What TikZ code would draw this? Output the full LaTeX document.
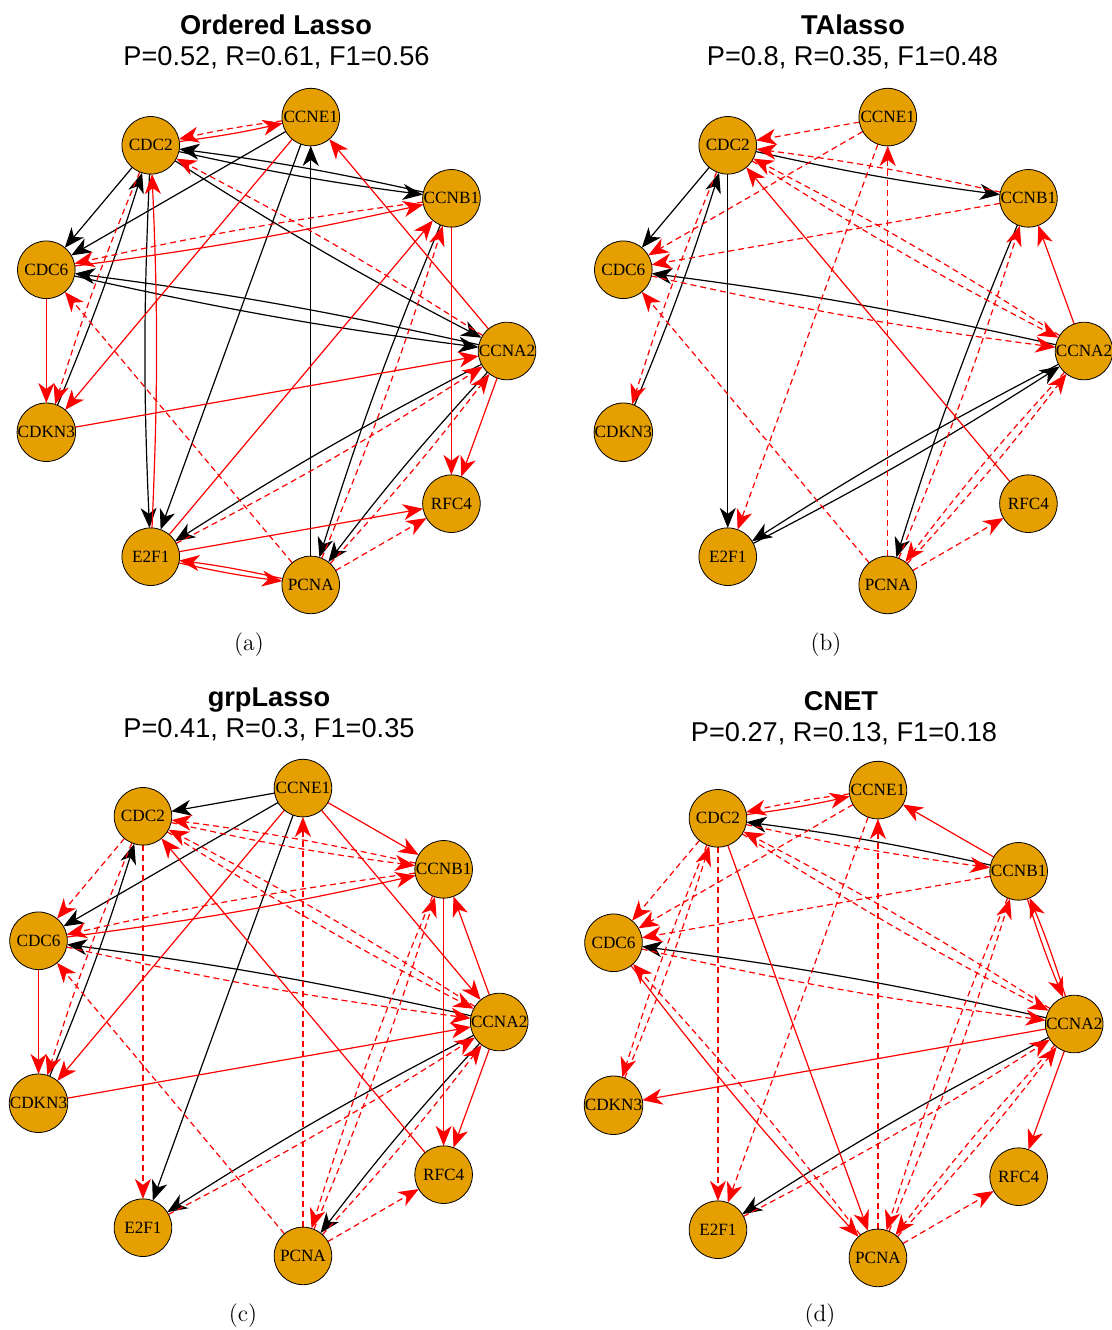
\documentclass[tikz,border=0pt]{standalone}
\usepackage{fontspec}
\newfontfamily\geneserif{Liberation Serif}
\newfontfamily\labelsans{Liberation Sans}
\usepackage{tikz}
\usetikzlibrary{arrows.meta,backgrounds}
\definecolor{geneorange}{HTML}{E69F00}

\begin{document}
\begin{tikzpicture}[x=0.5pt,y=-0.5pt,
gene/.style={draw,thin,shape=circle,fill=geneorange,minimum size=28.8pt,inner sep=0pt,outer sep=0pt,font=\geneserif\fontsize{8.6}{9}\selectfont},
hit/.style={line width=0.6pt,-{Stealth[length=10pt,width=8pt,inset=3pt]}},
falsepos/.style={hit,red},
missed/.style={hit,red,dash pattern=on 3pt off 2pt},
tw/.style={bend right=2.5},
head/.style={anchor=base,font=\labelsans\bfseries\fontsize{13.6}{16}\selectfont},
stats/.style={anchor=base,font=\labelsans\fontsize{13.6}{16}\selectfont},
sub/.style={anchor=base,font=\fontsize{11.8}{14}\selectfont}]
\useasboundingbox (0,0) rectangle (1112,1330);
\begin{scope}[on background layer]
\fill[white] (0,0) rectangle (1112,1330);
\end{scope}

\node[head] (ta) at (276,34) {Ordered Lasso};
\node[stats] (sa) at (276.5,65) {P=0.52, R=0.61, F1=0.56};
\node[sub] (ca) at (249,650) {(a)};
\node[head] (tb) at (853,34) {TAlasso};
\node[stats] (sb) at (852.5,65) {P=0.8, R=0.35, F1=0.48};
\node[sub] (cb) at (826,650) {(b)};
\node[head] (tc) at (269,706) {grpLasso};
\node[stats] (sc) at (269,737) {P=0.41, R=0.3, F1=0.35};
\node[sub] (cc) at (243,1321) {(c)};
\node[head] (td) at (841,710) {CNET};
\node[stats] (sd) at (844,741) {P=0.27, R=0.13, F1=0.18};
\node[sub] (cd) at (820,1321) {(d)};

\begin{scope}[shift={(269.5,351)}]
\node[gene] (aCCNA2) at (0:237.5) {CCNA2};
\node[gene] (aCCNB1) at (-40:237.5) {CCNB1};
\node[gene] (aCCNE1) at (-80:237.5) {CCNE1};
\node[gene] (aCDC2) at (-120:237.5) {CDC2};
\node[gene] (aCDC6) at (-160:237.5) {CDC6};
\node[gene] (aCDKN3) at (-200:237.5) {CDKN3};
\node[gene] (aE2F1) at (-240:237.5) {E2F1};
\node[gene] (aPCNA) at (-280:237.5) {PCNA};
\node[gene] (aRFC4) at (-320:237.5) {RFC4};
\end{scope}
\begin{scope}[shift={(846.5,351)}]
\node[gene] (bCCNA2) at (0:237.5) {CCNA2};
\node[gene] (bCCNB1) at (-40:237.5) {CCNB1};
\node[gene] (bCCNE1) at (-80:237.5) {CCNE1};
\node[gene] (bCDC2) at (-120:237.5) {CDC2};
\node[gene] (bCDC6) at (-160:237.5) {CDC6};
\node[gene] (bCDKN3) at (-200:237.5) {CDKN3};
\node[gene] (bE2F1) at (-240:237.5) {E2F1};
\node[gene] (bPCNA) at (-280:237.5) {PCNA};
\node[gene] (bRFC4) at (-320:237.5) {RFC4};
\end{scope}
\begin{scope}[shift={(261.7,1022)}]
\node[gene] (cCCNA2) at (0:237.5) {CCNA2};
\node[gene] (cCCNB1) at (-40:237.5) {CCNB1};
\node[gene] (cCCNE1) at (-80:237.5) {CCNE1};
\node[gene] (cCDC2) at (-120:237.5) {CDC2};
\node[gene] (cCDC6) at (-160:237.5) {CDC6};
\node[gene] (cCDKN3) at (-200:237.5) {CDKN3};
\node[gene] (cE2F1) at (-240:237.5) {E2F1};
\node[gene] (cPCNA) at (-280:237.5) {PCNA};
\node[gene] (cRFC4) at (-320:237.5) {RFC4};
\end{scope}
\begin{scope}[shift={(836.7,1024)}]
\node[gene] (dCCNA2) at (0:237.5) {CCNA2};
\node[gene] (dCCNB1) at (-40:237.5) {CCNB1};
\node[gene] (dCCNE1) at (-80:237.5) {CCNE1};
\node[gene] (dCDC2) at (-120:237.5) {CDC2};
\node[gene] (dCDC6) at (-160:237.5) {CDC6};
\node[gene] (dCDKN3) at (-200:237.5) {CDKN3};
\node[gene] (dE2F1) at (-240:237.5) {E2F1};
\node[gene] (dPCNA) at (-280:237.5) {PCNA};
\node[gene] (dRFC4) at (-320:237.5) {RFC4};
\end{scope}

\begin{scope}[on background layer]
\draw[hit] (aCCNB1) to[tw] (aCDC2);
\draw[hit] (aCDC2) to[tw] (aCCNB1);
\draw[hit] (aCDC2) to[tw] (aCCNA2);
\draw[hit] (aCDC2) -- (aCDC6);
\draw[hit] (aCCNE1) -- (aCDC6);
\draw[hit] (aCCNA2) to[tw] (aCDC6);
\draw[hit] (aCDC6) to[tw] (aCCNA2);
\draw[hit] (aCDKN3) to[tw] (aCDC2);
\draw[hit] (aCDC2) to[tw] (aE2F1);
\draw[hit] (aCCNE1) -- (aE2F1);
\draw[hit] (aPCNA) -- (aCCNE1);
\draw[hit] (aCCNB1) to[tw] (aPCNA);
\draw[hit] (aCCNA2) to[tw] (aE2F1);
\draw[hit] (aCCNA2) to[tw] (aPCNA);
\draw[falsepos] (aCDC2) to[tw] (aCCNE1);
\draw[falsepos] (aCDC6) to[tw] (aCCNB1);
\draw[falsepos] (aCDC6) -- (aCDKN3);
\draw[falsepos] (aCCNE1) -- (aCDKN3);
\draw[falsepos] (aE2F1) to[tw] (aCDC2);
\draw[falsepos] (aCCNA2) -- (aCCNE1);
\draw[falsepos] (aE2F1) -- (aCCNB1);
\draw[falsepos] (aCCNB1) -- (aRFC4);
\draw[falsepos] (aCCNA2) -- (aRFC4);
\draw[falsepos] (aCDKN3) -- (aCCNA2);
\draw[falsepos] (aE2F1) -- (aRFC4);
\draw[falsepos] (aE2F1) to[tw] (aPCNA);
\draw[falsepos] (aPCNA) to[tw] (aE2F1);
\draw[missed] (aCCNE1) to[tw] (aCDC2);
\draw[missed] (aCCNA2) to[tw] (aCDC2);
\draw[missed] (aCCNB1) to[tw] (aCDC6);
\draw[missed] (aPCNA) -- (aCDC6);
\draw[missed] (aCDC2) to[tw] (aCDKN3);
\draw[missed] (aPCNA) to[tw] (aCCNB1);
\draw[missed] (aE2F1) to[tw] (aCCNA2);
\draw[missed] (aPCNA) to[tw] (aCCNA2);
\draw[missed] (aPCNA) -- (aRFC4);

\draw[hit] (bCDC2) to[tw] (bCCNB1);
\draw[hit] (bCDC2) -- (bCDC6);
\draw[hit] (bCCNA2) to[tw] (bCDC6);
\draw[hit] (bCDKN3) to[tw] (bCDC2);
\draw[hit] (bCDC2) -- (bE2F1);
\draw[hit] (bCCNB1) to[tw] (bPCNA);
\draw[hit] (bCCNA2) to[tw] (bE2F1);
\draw[hit] (bE2F1) to[tw] (bCCNA2);
\draw[falsepos] (bRFC4) -- (bCDC2);
\draw[falsepos] (bCCNA2) -- (bCCNB1);
\draw[missed] (bCCNB1) to[tw] (bCDC2);
\draw[missed] (bCDC2) to[tw] (bCCNA2);
\draw[missed] (bCCNE1) -- (bCDC6);
\draw[missed] (bCDC6) to[tw] (bCCNA2);
\draw[missed] (bCCNE1) -- (bE2F1);
\draw[missed] (bPCNA) -- (bCCNE1);
\draw[missed] (bCCNA2) to[tw] (bPCNA);
\draw[missed] (bCCNE1) -- (bCDC2);
\draw[missed] (bCCNA2) to[tw] (bCDC2);
\draw[missed] (bCCNB1) -- (bCDC6);
\draw[missed] (bPCNA) -- (bCDC6);
\draw[missed] (bCDC2) to[tw] (bCDKN3);
\draw[missed] (bPCNA) to[tw] (bCCNB1);
\draw[missed] (bPCNA) to[tw] (bCCNA2);
\draw[missed] (bPCNA) -- (bRFC4);

\draw[hit] (cCCNE1) -- (cCDC2);
\draw[hit] (cCCNE1) -- (cCDC6);
\draw[hit] (cCCNE1) -- (cE2F1);
\draw[hit] (cCCNA2) to[tw] (cCDC6);
\draw[hit] (cCDKN3) to[tw] (cCDC2);
\draw[hit] (cCCNA2) to[tw] (cE2F1);
\draw[hit] (cCCNA2) to[tw] (cPCNA);
\draw[falsepos] (cCCNE1) -- (cCDKN3);
\draw[falsepos] (cCCNE1) -- (cCCNB1);
\draw[falsepos] (cCCNE1) -- (cCCNA2);
\draw[falsepos] (cCDC6) to[tw] (cCCNB1);
\draw[falsepos] (cRFC4) -- (cCDC2);
\draw[falsepos] (cCDC6) -- (cCDKN3);
\draw[falsepos] (cCDKN3) -- (cCCNA2);
\draw[falsepos] (cCCNA2) -- (cCCNB1);
\draw[falsepos] (cCCNB1) -- (cRFC4);
\draw[falsepos] (cCCNA2) -- (cRFC4);
\draw[missed] (cCCNB1) to[tw] (cCDC2);
\draw[missed] (cCDC2) to[tw] (cCCNB1);
\draw[missed] (cCDC2) to[tw] (cCCNA2);
\draw[missed] (cCDC2) -- (cCDC6);
\draw[missed] (cCDC6) to[tw] (cCCNA2);
\draw[missed] (cCDC2) -- (cE2F1);
\draw[missed] (cPCNA) -- (cCCNE1);
\draw[missed] (cCCNB1) to[tw] (cPCNA);
\draw[missed] (cCCNA2) to[tw] (cCDC2);
\draw[missed] (cCCNB1) to[tw] (cCDC6);
\draw[missed] (cPCNA) -- (cCDC6);
\draw[missed] (cCDC2) to[tw] (cCDKN3);
\draw[missed] (cPCNA) to[tw] (cCCNB1);
\draw[missed] (cE2F1) to[tw] (cCCNA2);
\draw[missed] (cPCNA) to[tw] (cCCNA2);
\draw[missed] (cPCNA) -- (cRFC4);

\draw[hit] (dCCNB1) to[tw] (dCDC2);
\draw[hit] (dCCNA2) to[tw] (dCDC6);
\draw[hit] (dCCNA2) to[tw] (dE2F1);
\draw[falsepos] (dCDC2) to[tw] (dCCNE1);
\draw[falsepos] (dCCNB1) -- (dCCNE1);
\draw[falsepos] (dCCNB1) to[tw] (dCCNA2);
\draw[falsepos] (dCCNA2) to[tw] (dCCNB1);
\draw[falsepos] (dCDC6) to[tw] (dPCNA);
\draw[falsepos] (dCDC2) -- (dPCNA);
\draw[falsepos] (dCCNA2) -- (dCDKN3);
\draw[falsepos] (dCCNA2) -- (dRFC4);
\draw[missed] (dCDC2) to[tw] (dCCNB1);
\draw[missed] (dCDC2) to[tw] (dCCNA2);
\draw[missed] (dCDC2) -- (dCDC6);
\draw[missed] (dCCNE1) -- (dCDC6);
\draw[missed] (dCDC6) to[tw] (dCCNA2);
\draw[missed] (dCDKN3) to[tw] (dCDC2);
\draw[missed] (dCDC2) -- (dE2F1);
\draw[missed] (dCCNE1) -- (dE2F1);
\draw[missed] (dPCNA) -- (dCCNE1);
\draw[missed] (dCCNB1) to[tw] (dPCNA);
\draw[missed] (dCCNA2) to[tw] (dPCNA);
\draw[missed] (dCCNE1) to[tw] (dCDC2);
\draw[missed] (dCCNA2) to[tw] (dCDC2);
\draw[missed] (dCCNB1) -- (dCDC6);
\draw[missed] (dPCNA) to[tw] (dCDC6);
\draw[missed] (dCDC2) to[tw] (dCDKN3);
\draw[missed] (dPCNA) to[tw] (dCCNB1);
\draw[missed] (dE2F1) to[tw] (dCCNA2);
\draw[missed] (dPCNA) to[tw] (dCCNA2);
\draw[missed] (dPCNA) -- (dRFC4);
\end{scope}
\end{tikzpicture}
\end{document}
